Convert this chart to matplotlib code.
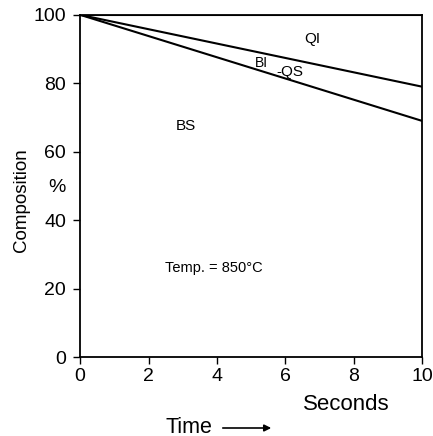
import matplotlib
matplotlib.use("Agg")
import matplotlib.pyplot as plt

plt.rcParams['font.family'] = ['Liberation Sans', 'DejaVu Sans']

time_s = [0, 10]
qi_boundary = [100, 100]
biqs_upper = [100, 79]
bs_upper = [100, 69]
xticks = [0, 2, 4, 6, 8, 10]
yticks = [0, 20, 40, 60, 80, 100]

fig = plt.figure(figsize=(4.33, 4.36), dpi=100)
ax = fig.add_axes([0.185, 0.181, 0.79, 0.785])
for y in (qi_boundary, biqs_upper, bs_upper):
    ax.plot(time_s, y, color='black', lw=1.5)
ax.set_xlim(0, 10)
ax.set_ylim(0, 100)
ax.set_xticks(xticks)
ax.set_yticks(yticks)
ax.tick_params(labelsize=14, length=5, width=1, direction='out', pad=3)
ax.tick_params(axis='y', pad=5)
for s in ax.spines.values():
    s.set_linewidth(1.3)

ax.text(6.8, 93, 'QI', fontsize=11, ha='center', va='center')
ax.text(5.31, 86.0, 'BI', fontsize=10, ha='center', va='center')
ax.text(6.14, 83.4, '-QS', fontsize=11, ha='center', va='center')
ax.text(3.1, 67.5, 'BS', fontsize=11, ha='center', va='center')
ax.text(3.9, 26, 'Temp. = 850°C', fontsize=10.5, ha='center', va='center')

fig.text(22/433, 1-200/436, 'Composition', rotation=90, fontsize=13.5, ha='center', va='center')
fig.text(57/433, 1-187/436, '%', fontsize=14, ha='center', va='center')
fig.text(346/433, 1-404/436, 'Seconds', fontsize=16, ha='center', va='center')
fig.text(189/433, 1-427/436, 'Time', fontsize=15.5, ha='center', va='center')
fig.add_artist(matplotlib.patches.FancyArrowPatch((220/433, 1-428/436), (274/433, 1-428/436),
               transform=fig.transFigure, arrowstyle='-|>', mutation_scale=10, lw=1.2, color='black'))

fig.savefig('out.png', dpi=100)
